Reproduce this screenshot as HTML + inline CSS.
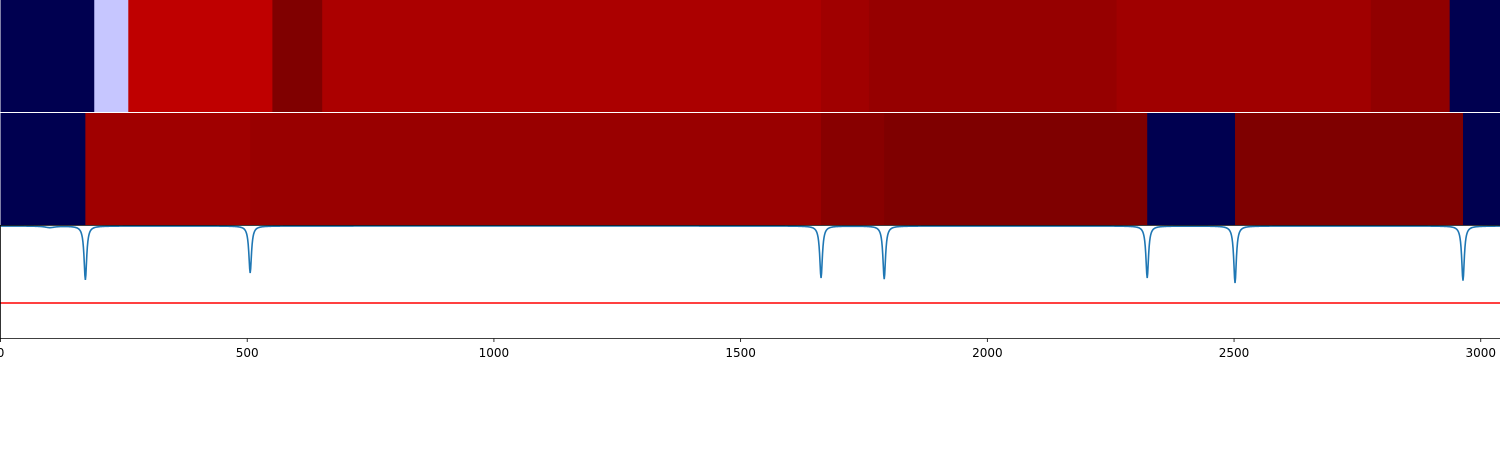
<!DOCTYPE html>
<html><head><meta charset="utf-8"><style>
body{margin:0;background:#fff;width:1500px;height:450px;overflow:hidden}
svg{display:block;font-family:"DejaVu Sans","Liberation Sans",sans-serif}
</style></head><body>
<svg id="chart" width="1500" height="450" xmlns="http://www.w3.org/2000/svg"></svg>
<script>
const xMax = 3039;
const row1Edges = [0,190,259,551,652,1663,1760,2262,2777,2937,3039];
const row1Colors = ["#000050","#c6c6ff","#bf0000","#800000","#ab0000","#a00000","#960000","#a00000","#910000","#000050"];
const row2Edges = [0,172,506,1663,1791,2324,2502,2964,3039];
const row2Colors = ["#000050","#a00000","#990000","#880000","#7f0000","#000050","#7f0000","#000050"];
const dipCenters = [100,172,506,1663,1791,2324,2502,2964];
const dipDepths = [0.02,0.70,0.61,0.675,0.69,0.675,0.74,0.71];
const threshold = -1;
const xTicks = [0,500,1000,1500,2000,2500,3000];

const svgEl = document.getElementById('chart');
const NS = "http://www.w3.org/2000/svg";
const sx = v => 0.5 + v * 1499.5 / xMax;
const sy = v => 226 - v * 77;
function mk(tag, attrs){const e=document.createElementNS(NS,tag);for(const k in attrs)e.setAttribute(k,attrs[k]);svgEl.appendChild(e);return e;}

function drawRow(edges, colors, y0, h, name){
  for(let i=0;i<colors.length;i++){
    const r = mk('rect',{x:sx(edges[i]),y:y0,width:sx(edges[i+1])-sx(edges[i])+0.5,height:h,fill:colors[i]});
    
    
  }
}
drawRow(row1Edges,row1Colors,0,112,'heat-row-1');
drawRow(row2Edges,row2Colors,113,112,'heat-row-2');

let d="";
for(let x=0;x<=xMax;x+=1){
  let v=0;
  for(let i=0;i<dipCenters.length;i++){
    const w = i===0?12:3.2;
    const t=(x-dipCenters[i])/w;
    v -= dipDepths[i]/(1+t*t);
  }
  d += (x===0?"M":"L")+sx(x).toFixed(2)+","+sy(v).toFixed(2);
}
const ln = mk('path',{d:d,fill:"none",stroke:"#1f77b4","stroke-width":1.6});


const th = mk('line',{x1:0,x2:1500,y1:sy(threshold),y2:sy(threshold),stroke:"#ff0000","stroke-width":1.5});



const topSpine = mk('line',{x1:0,x2:1500,y1:225.5,y2:225.5,stroke:"#000","stroke-width":0.8});


const botAxis = mk('line',{x1:0,x2:1500,y1:338.5,y2:338.5,stroke:"#000","stroke-width":0.8});


const leftSpine = mk('line',{x1:0.5,x2:0.5,y1:225,y2:338.5,stroke:"#000","stroke-width":0.8});


for(const t of xTicks){
  const tk = mk('line',{x1:sx(t),x2:sx(t),y1:338.5,y2:342,stroke:"#000","stroke-width":0.8});
  
  
  const lb = mk('text',{x:sx(t),y:357,"text-anchor":"middle","font-size":"12px",fill:"#000"});
  lb.textContent = t;
  
  
}
</script>
</body></html>
